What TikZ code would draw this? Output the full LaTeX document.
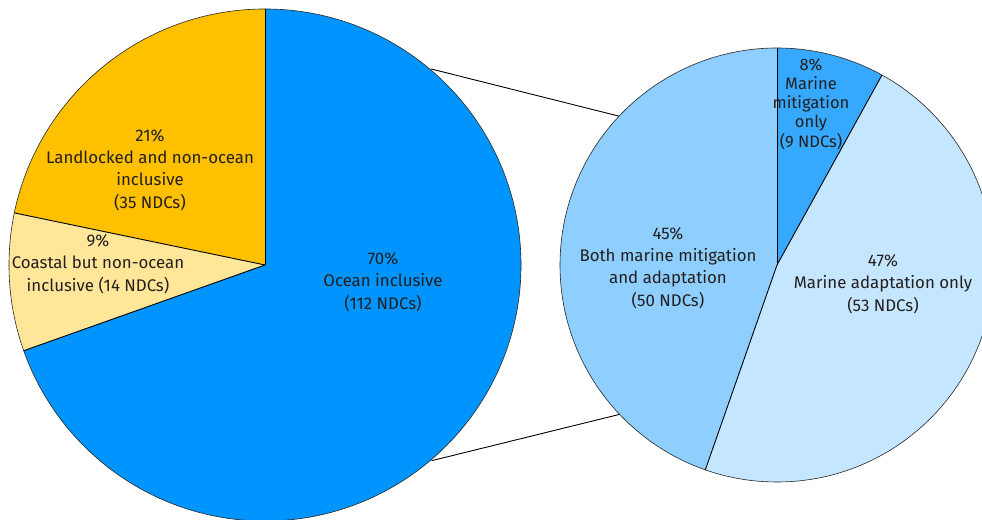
\documentclass[tikz,border=0pt]{standalone}
\usepackage{fontspec}
\setmainfont{Fira Sans}
\definecolor{oceanblue}{HTML}{0094FF}
\definecolor{landorange}{HTML}{FFC000}
\definecolor{coastyellow}{HTML}{FFE699}
\definecolor{bothblue}{HTML}{8ECFFF}
\definecolor{mitblue}{HTML}{36A9FF}
\definecolor{adaptblue}{HTML}{C5E6FF}
\definecolor{txt}{HTML}{231F20}
\begin{document}
\begin{tikzpicture}[x=1bp,y=1bp,
  rim/.style={draw=black!85, line width=0.6bp},
  spoke/.style={draw=black, line width=0.9bp},
  link/.style={draw=black, line width=0.9bp},
  lbl/.style={align=center, font=\fontsize{16.9}{22.5}\selectfont, text=txt, inner sep=0pt},
  slbl/.style={align=center, font=\fontsize{16.6}{19.3}\selectfont, text=txt, inner sep=0pt}
]
\useasboundingbox (0,0) rectangle (982,520);
\coordinate (L) at (265,255);
\coordinate (R) at (777,255);
% left pie
\fill[landorange] (L) -- ++(90:256bp) arc[start angle=90,end angle=168.26,radius=256bp] -- cycle;
\fill[coastyellow] (L) -- ++(168.26:256bp) arc[start angle=168.26,end angle=199.56,radius=256bp] -- cycle;
\fill[oceanblue] (L) -- ++(199.56:256bp) arc[start angle=199.56,end angle=450,radius=256bp] -- cycle;
\draw[rim] (L) circle[radius=256bp];
\draw[spoke] (L) -- ++(90:256bp);
\draw[spoke] (L) -- ++(168.26:256bp);
\draw[spoke] (L) -- ++(199.56:256bp);
% right pie
\begin{scope}
\clip (0,0) rectangle (982,520);
\fill[mitblue] (R) -- ++(61.07:217bp) arc[start angle=61.07,end angle=90,radius=217bp] -- cycle;
\fill[bothblue] (R) -- ++(90:217bp) arc[start angle=90,end angle=250.71,radius=217bp] -- cycle;
\fill[adaptblue] (R) -- ++(-109.29:217bp) arc[start angle=-109.29,end angle=61.07,radius=217bp] -- cycle;
\draw[rim] (R) circle[radius=217bp];
\draw[spoke] (R) -- ++(90:217bp);
\draw[spoke] (R) -- ++(61.07:217bp);
\draw[spoke] (R) -- ++(-109.29:217bp);
\end{scope}
% connectors
\path (L) ++(49.7:257bp) coordinate (lt);
\path (L) ++(-49.6:257bp) coordinate (lb);
\path (R) ++(136.7:217bp) coordinate (rt);
\path (R) ++(223.5:217bp) coordinate (rb);
\draw[link] (lt) -- (rt);
\draw[link] (lb) -- (rb);
% labels
\node[lbl] (land) at (150,350) {21\%\\Landlocked and non-ocean\\inclusive\\(35 NDCs)};
\node[lbl] (coast) at (98,256) {9\%\\Coastal but non-ocean\\inclusive (14 NDCs)};
\node[lbl] (ocean) at (383,238) {70\%\\Ocean inclusive\\(112 NDCs)};
\node[slbl] (mit) at (811,416) {8\%\\Marine\\mitigation\\only\\(9 NDCs)};
\node[lbl] (both) at (668,252) {45\%\\Both marine mitigation\\and adaptation\\(50 NDCs)};
\node[lbl] (adapt) at (883,236) {47\%\\Marine adaptation only\\(53 NDCs)};
\end{tikzpicture}
\end{document}
